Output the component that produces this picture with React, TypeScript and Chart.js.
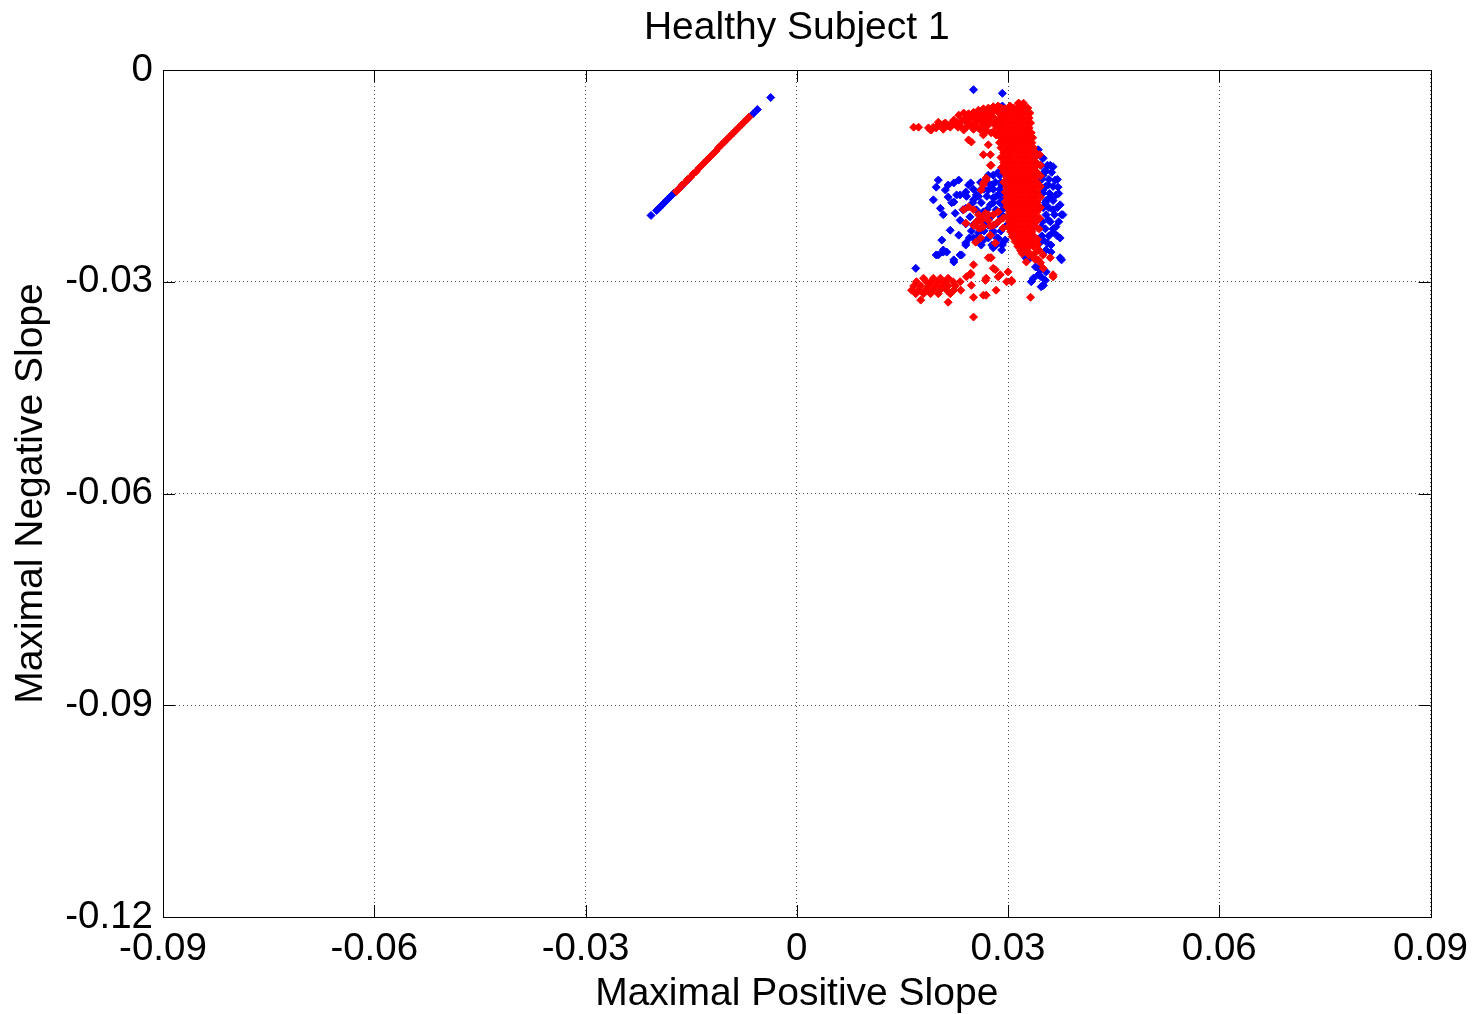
import React, { useEffect, useRef } from 'react';
import { Chart, registerables } from 'chart.js';

Chart.register(...registerables);

const chartTitle = 'Healthy Subject 1';
const xAxisTitle = 'Maximal Positive Slope';
const yAxisTitle = 'Maximal Negative Slope';

const xTickValues = [-0.09, -0.06, -0.03, 0, 0.03, 0.06, 0.09];
const xTickLabels = ['-0.09', '-0.06', '-0.03', '0', '0.03', '0.06', '0.09'];
const yTickValues = [-0.12, -0.09, -0.06, -0.03, 0];
const yTickLabels = ['-0.12', '-0.09', '-0.06', '-0.03', '0'];

type P = [number, number];

// Blue group
const blueLine: P[] = [
  [-0.0207, -0.0206], [-0.0199, -0.0199], [-0.0196, -0.0196], [-0.0193, -0.0193], [-0.0190, -0.0190],
  [-0.0187, -0.0187], [-0.0184, -0.0184], [-0.0181, -0.0181], [-0.0178, -0.0178], [-0.0175, -0.0175],
  [-0.0164, -0.0165], [-0.0155, -0.0156], [-0.0062, -0.0062], [-0.0056, -0.0056], [-0.0037, -0.0039],
];

const blueCloudLeft: P[] = [
  [0.0251, -0.0028], [0.0292, -0.0033], [0.0292, -0.0051],
  [0.0201, -0.0156], [0.0198, -0.0166], [0.0223, -0.0160], [0.0230, -0.0156], [0.0247, -0.0160],
  [0.0240, -0.0173], [0.0215, -0.0180], [0.0223, -0.0187], [0.0204, -0.0196], [0.0225, -0.0203],
  [0.0240, -0.0196], [0.0251, -0.0184], [0.0261, -0.0170], [0.0272, -0.0170], [0.0265, -0.0201],
  [0.0258, -0.0213], [0.0262, -0.0227], [0.0240, -0.0248], [0.0208, -0.0255], [0.0220, -0.0188],
  [0.0240, -0.0245], [0.0213, -0.0258], [0.0201, -0.0262], [0.0223, -0.0272], [0.0234, -0.0262],
  [0.0169, -0.0281], [0.0258, -0.0231], [0.0286, -0.0238], [0.0296, -0.0241], [0.0269, -0.0159],
  [0.0272, -0.0149], [0.0276, -0.0163], [0.0279, -0.0181], [0.0275, -0.0191], [0.0272, -0.0220],
  [0.0279, -0.0230], [0.0283, -0.0248], [0.0291, -0.0255], [0.0265, -0.0241], [0.0255, -0.0177],
  [0.0244, -0.0163], [0.0232, -0.0177], [0.0211, -0.0170],
  [0.0286, -0.0145], [0.0291, -0.0163], [0.0286, -0.0177], [0.0293, -0.0191], [0.0291, -0.0205],
  [0.0298, -0.0220],
  [0.0279, -0.0149], [0.0288, -0.0149],
  [0.0261, -0.0159], [0.0282, -0.0159], [0.0290, -0.0159],
  [0.0251, -0.0169], [0.0266, -0.0169], [0.0279, -0.0169], [0.0288, -0.0169],
  [0.0241, -0.0179], [0.0258, -0.0179], [0.0270, -0.0179], [0.0283, -0.0179], [0.0291, -0.0179],
  [0.0250, -0.0188], [0.0262, -0.0188], [0.0279, -0.0188], [0.0288, -0.0188],
  [0.0236, -0.0198], [0.0255, -0.0198], [0.0270, -0.0198], [0.0283, -0.0198], [0.0292, -0.0198],
  [0.0246, -0.0208], [0.0261, -0.0208], [0.0276, -0.0208], [0.0290, -0.0208],
  [0.0240, -0.0218], [0.0252, -0.0218], [0.0268, -0.0218], [0.0283, -0.0218],
  [0.0248, -0.0228], [0.0266, -0.0228], [0.0279, -0.0228], [0.0290, -0.0228],
  [0.0245, -0.0238], [0.0256, -0.0238], [0.0272, -0.0238], [0.0284, -0.0238],
  [0.0262, -0.0248], [0.0277, -0.0248], [0.0292, -0.0248],
  [0.0194, -0.0184], [0.0208, -0.0205], [0.0215, -0.0163], [0.0227, -0.0177], [0.0232, -0.0213],
  [0.0218, -0.0227], [0.0206, -0.0241], [0.0230, -0.0234], [0.0198, -0.0262], [0.0208, -0.0258],
  [0.0223, -0.0269], [0.0232, -0.0262], [0.0251, -0.0238], [0.0261, -0.0244], [0.0279, -0.0252],
  [0.0293, -0.0244],
];

const blueCloudRight: P[] = [
  [0.0347, -0.0123], [0.0353, -0.0142], [0.0364, -0.0137], [0.0367, -0.0156], [0.0371, -0.0166],
  [0.0360, -0.0180], [0.0376, -0.0205], [0.0368, -0.0222], [0.0347, -0.0222], [0.0343, -0.0194],
  [0.0353, -0.0188], [0.0360, -0.0135], [0.0347, -0.0279], [0.0353, -0.0298], [0.0350, -0.0305],
  [0.0333, -0.0300], [0.0376, -0.0269], [0.0361, -0.0248], [0.0374, -0.0238], [0.0325, -0.0266],
  [0.0346, -0.0283], [0.0339, -0.0279], [0.0343, -0.0290], [0.0347, -0.0307], [0.0350, -0.0149],
  [0.0357, -0.0163], [0.0350, -0.0170], [0.0364, -0.0198], [0.0357, -0.0212], [0.0350, -0.0241],
  [0.0364, -0.0230], [0.0354, -0.0255], [0.0343, -0.0113], [0.0368, -0.0177], [0.0374, -0.0191],
  [0.0350, -0.0125],
  [0.0347, -0.0135], [0.0356, -0.0135],
  [0.0352, -0.0145], [0.0362, -0.0145],
  [0.0348, -0.0155], [0.0358, -0.0155], [0.0370, -0.0155],
  [0.0353, -0.0165], [0.0364, -0.0165],
  [0.0349, -0.0175], [0.0359, -0.0175], [0.0372, -0.0175],
  [0.0354, -0.0185], [0.0364, -0.0185],
  [0.0350, -0.0195], [0.0358, -0.0195], [0.0370, -0.0195],
  [0.0354, -0.0205], [0.0366, -0.0205], [0.0378, -0.0205],
  [0.0349, -0.0215], [0.0360, -0.0215], [0.0372, -0.0215],
  [0.0353, -0.0225], [0.0364, -0.0225],
  [0.0348, -0.0235], [0.0358, -0.0235], [0.0370, -0.0235],
  [0.0345, -0.0245], [0.0356, -0.0245],
  [0.0361, -0.0258], [0.0374, -0.0266],
  [0.0332, -0.0266], [0.0343, -0.0281], [0.0347, -0.0293], [0.0350, -0.0305], [0.0336, -0.0295],
  [0.0354, -0.0286],
];

// Red group
const redLine: P[] = [
  [-0.0171, -0.0172], [-0.0167, -0.0168], [-0.0163, -0.0163], [-0.0159, -0.0160], [-0.0155, -0.0155],
  [-0.0151, -0.0152], [-0.0147, -0.0147], [-0.0143, -0.0144], [-0.0139, -0.0139], [-0.0135, -0.0135],
  [-0.0131, -0.0131], [-0.0127, -0.0127], [-0.0123, -0.0123], [-0.0119, -0.0119], [-0.0115, -0.0115],
  [-0.0111, -0.0110], [-0.0107, -0.0106], [-0.0103, -0.0102], [-0.0099, -0.0098], [-0.0095, -0.0094],
  [-0.0091, -0.0090], [-0.0087, -0.0086], [-0.0083, -0.0082], [-0.0079, -0.0078], [-0.0075, -0.0074],
  [-0.0071, -0.0070], [-0.0068, -0.0067],
];

const redStreak: P[] = [
  [0.0166, -0.0081], [0.0173, -0.0081], [0.0187, -0.0082], [0.0194, -0.0081], [0.0191, -0.0085],
  [0.0201, -0.0074], [0.0201, -0.0079], [0.0208, -0.0077], [0.0211, -0.0075], [0.0215, -0.0079],
  [0.0220, -0.0075], [0.0223, -0.0071], [0.0227, -0.0074], [0.0230, -0.0078], [0.0234, -0.0072],
  [0.0237, -0.0085], [0.0240, -0.0068], [0.0241, -0.0074], [0.0244, -0.0071], [0.0247, -0.0077],
  [0.0248, -0.0102], [0.0251, -0.0068], [0.0254, -0.0067], [0.0255, -0.0074], [0.0258, -0.0065],
  [0.0261, -0.0071], [0.0262, -0.0064], [0.0265, -0.0068], [0.0265, -0.0077], [0.0265, -0.0092],
  [0.0268, -0.0061], [0.0269, -0.0071], [0.0272, -0.0060], [0.0272, -0.0068], [0.0272, -0.0078],
  [0.0275, -0.0064], [0.0276, -0.0071], [0.0279, -0.0058], [0.0279, -0.0067], [0.0282, -0.0077],
  [0.0283, -0.0057], [0.0286, -0.0060], [0.0291, -0.0054], [0.0293, -0.0064], [0.0296, -0.0055],
  [0.0300, -0.0057], [0.0303, -0.0051], [0.0308, -0.0054], [0.0315, -0.0047], [0.0317, -0.0050],
  [0.0322, -0.0052], [0.0325, -0.0057], [0.0272, -0.0106], [0.0275, -0.0120], [0.0276, -0.0135],
  [0.0269, -0.0156], [0.0262, -0.0170], [0.0244, -0.0099], [0.0229, -0.0081], [0.0251, -0.0079],
  [0.0258, -0.0082], [0.0286, -0.0071], [0.0290, -0.0080], [0.0248, -0.0064], [0.0268, -0.0085],
  [0.0279, -0.0088], [0.0283, -0.0080],
  [0.0190, -0.0085], [0.0198, -0.0082], [0.0208, -0.0084], [0.0218, -0.0081], [0.0227, -0.0079],
  [0.0230, -0.0064], [0.0237, -0.0061], [0.0244, -0.0062], [0.0251, -0.0060], [0.0258, -0.0057],
  [0.0265, -0.0055], [0.0272, -0.0054], [0.0279, -0.0052], [0.0286, -0.0051], [0.0232, -0.0079],
  [0.0241, -0.0081], [0.0251, -0.0084], [0.0261, -0.0085], [0.0269, -0.0086], [0.0276, -0.0089],
  [0.0283, -0.0092], [0.0286, -0.0078], [0.0281, -0.0071],
];

const redColumn: P[] = [
  [0.0315, -0.0047], [0.0322, -0.0047],
  [0.0306, -0.0054], [0.0314, -0.0054], [0.0322, -0.0054], [0.0328, -0.0054],
  [0.0294, -0.0061], [0.0302, -0.0061], [0.0310, -0.0061], [0.0318, -0.0061], [0.0326, -0.0061], [0.0331, -0.0061],
  [0.0290, -0.0068], [0.0298, -0.0068], [0.0306, -0.0068], [0.0314, -0.0068], [0.0322, -0.0068], [0.0330, -0.0068],
  [0.0286, -0.0075], [0.0294, -0.0075], [0.0302, -0.0075], [0.0310, -0.0075], [0.0318, -0.0075], [0.0326, -0.0075], [0.0332, -0.0075],
  [0.0290, -0.0082], [0.0298, -0.0082], [0.0306, -0.0082], [0.0314, -0.0082], [0.0322, -0.0082], [0.0330, -0.0082],
  [0.0286, -0.0089], [0.0294, -0.0089], [0.0302, -0.0089], [0.0310, -0.0089], [0.0318, -0.0089], [0.0326, -0.0089], [0.0333, -0.0089],
  [0.0290, -0.0096], [0.0298, -0.0096], [0.0306, -0.0096], [0.0314, -0.0096], [0.0322, -0.0096], [0.0330, -0.0096], [0.0335, -0.0096],
  [0.0288, -0.0103], [0.0294, -0.0103], [0.0302, -0.0103], [0.0310, -0.0103], [0.0318, -0.0103], [0.0326, -0.0103], [0.0334, -0.0103],
  [0.0290, -0.0110], [0.0298, -0.0110], [0.0306, -0.0110], [0.0314, -0.0110], [0.0322, -0.0110], [0.0330, -0.0110], [0.0336, -0.0110],
  [0.0294, -0.0117], [0.0302, -0.0117], [0.0310, -0.0117], [0.0318, -0.0117], [0.0326, -0.0117], [0.0334, -0.0117], [0.0339, -0.0117],
  [0.0290, -0.0124], [0.0298, -0.0124], [0.0306, -0.0124], [0.0314, -0.0124], [0.0322, -0.0124], [0.0330, -0.0124], [0.0338, -0.0124],
  [0.0294, -0.0131], [0.0302, -0.0131], [0.0310, -0.0131], [0.0318, -0.0131], [0.0326, -0.0131], [0.0334, -0.0131], [0.0340, -0.0131],
  [0.0291, -0.0138], [0.0298, -0.0138], [0.0306, -0.0138], [0.0314, -0.0138], [0.0322, -0.0138], [0.0330, -0.0138], [0.0338, -0.0138],
  [0.0294, -0.0145], [0.0302, -0.0145], [0.0310, -0.0145], [0.0318, -0.0145], [0.0326, -0.0145], [0.0334, -0.0145], [0.0341, -0.0145],
  [0.0298, -0.0152], [0.0306, -0.0152], [0.0314, -0.0152], [0.0322, -0.0152], [0.0330, -0.0152], [0.0338, -0.0152],
  [0.0294, -0.0159], [0.0302, -0.0159], [0.0310, -0.0159], [0.0318, -0.0159], [0.0326, -0.0159], [0.0334, -0.0159], [0.0341, -0.0159],
  [0.0298, -0.0166], [0.0306, -0.0166], [0.0314, -0.0166], [0.0322, -0.0166], [0.0330, -0.0166], [0.0338, -0.0166],
  [0.0296, -0.0173], [0.0302, -0.0173], [0.0310, -0.0173], [0.0318, -0.0173], [0.0326, -0.0173], [0.0334, -0.0173], [0.0341, -0.0173],
  [0.0298, -0.0180], [0.0306, -0.0180], [0.0314, -0.0180], [0.0322, -0.0180], [0.0330, -0.0180], [0.0338, -0.0180],
  [0.0296, -0.0187], [0.0302, -0.0187], [0.0310, -0.0187], [0.0318, -0.0187], [0.0326, -0.0187], [0.0334, -0.0187], [0.0341, -0.0187],
  [0.0298, -0.0194], [0.0306, -0.0194], [0.0314, -0.0194], [0.0322, -0.0194], [0.0330, -0.0194], [0.0338, -0.0194],
  [0.0302, -0.0201], [0.0310, -0.0201], [0.0318, -0.0201], [0.0326, -0.0201], [0.0334, -0.0201], [0.0341, -0.0201],
  [0.0298, -0.0208], [0.0306, -0.0208], [0.0314, -0.0208], [0.0322, -0.0208], [0.0330, -0.0208], [0.0338, -0.0208],
  [0.0302, -0.0215], [0.0310, -0.0215], [0.0318, -0.0215], [0.0326, -0.0215], [0.0334, -0.0215], [0.0340, -0.0215],
  [0.0300, -0.0222], [0.0306, -0.0222], [0.0314, -0.0222], [0.0322, -0.0222], [0.0330, -0.0222], [0.0338, -0.0222],
  [0.0304, -0.0229], [0.0310, -0.0229], [0.0318, -0.0229], [0.0326, -0.0229], [0.0334, -0.0229],
  [0.0306, -0.0236], [0.0314, -0.0236], [0.0322, -0.0236], [0.0330, -0.0236], [0.0337, -0.0236],
  [0.0310, -0.0243], [0.0318, -0.0243], [0.0326, -0.0243], [0.0334, -0.0243],
  [0.0314, -0.0250], [0.0322, -0.0250], [0.0330, -0.0250],
  [0.0318, -0.0256], [0.0326, -0.0256],
  [0.0345, -0.0120], [0.0346, -0.0135], [0.0346, -0.0150], [0.0346, -0.0165], [0.0346, -0.0180],
  [0.0346, -0.0195], [0.0345, -0.0210], [0.0344, -0.0225], [0.0342, -0.0240],
  [0.0320, -0.0260], [0.0330, -0.0262], [0.0338, -0.0268], [0.0344, -0.0255], [0.0336, -0.0250],
  [0.0342, -0.0247],
];

const redScatter: P[] = [
  [0.0240, -0.0217], [0.0251, -0.0220], [0.0258, -0.0224], [0.0261, -0.0213], [0.0268, -0.0203],
  [0.0265, -0.0160], [0.0261, -0.0238], [0.0272, -0.0205], [0.0279, -0.0220], [0.0275, -0.0234],
  [0.0282, -0.0245], [0.0254, -0.0244], [0.0272, -0.0266], [0.0282, -0.0283], [0.0286, -0.0293],
  [0.0247, -0.0288], [0.0251, -0.0322], [0.0269, -0.0319], [0.0268, -0.0298], [0.0283, -0.0312],
  [0.0305, -0.0298], [0.0300, -0.0286], [0.0332, -0.0322], [0.0326, -0.0272], [0.0339, -0.0259],
  [0.0343, -0.0269], [0.0364, -0.0293], [0.0251, -0.0350], [0.0241, -0.0293], [0.0215, -0.0329],
  [0.0329, -0.0258], [0.0336, -0.0265], [0.0350, -0.0262], [0.0346, -0.0273], [0.0325, -0.0252],
  [0.0276, -0.0266], [0.0305, -0.0300], [0.0237, -0.0198], [0.0244, -0.0194],
  [0.0251, -0.0198], [0.0258, -0.0205], [0.0265, -0.0210], [0.0272, -0.0213], [0.0279, -0.0205],
  [0.0286, -0.0201], [0.0286, -0.0215], [0.0275, -0.0221], [0.0265, -0.0222], [0.0255, -0.0215],
  [0.0293, -0.0210], [0.0293, -0.0224],
  [0.0265, -0.0120], [0.0275, -0.0135], [0.0269, -0.0153], [0.0265, -0.0163],
  [0.0251, -0.0276], [0.0247, -0.0290], [0.0275, -0.0266], [0.0279, -0.0281], [0.0289, -0.0290],
  [0.0298, -0.0300], [0.0269, -0.0295], [0.0265, -0.0319], [0.0248, -0.0305], [0.0350, -0.0281],
  [0.0364, -0.0290], [0.0360, -0.0266], [0.0261, -0.0224],
];

const redLowCluster: P[] = [
  [0.0180, -0.0295], [0.0194, -0.0295], [0.0204, -0.0295], [0.0215, -0.0295],
  [0.0170, -0.0300], [0.0184, -0.0300], [0.0191, -0.0300], [0.0201, -0.0300], [0.0211, -0.0300], [0.0222, -0.0300], [0.0232, -0.0300],
  [0.0166, -0.0306], [0.0176, -0.0306], [0.0187, -0.0306], [0.0197, -0.0306], [0.0207, -0.0306], [0.0215, -0.0306], [0.0225, -0.0306],
  [0.0163, -0.0312], [0.0173, -0.0312], [0.0183, -0.0312], [0.0193, -0.0312], [0.0203, -0.0312], [0.0213, -0.0312], [0.0223, -0.0312], [0.0233, -0.0312],
  [0.0169, -0.0317], [0.0180, -0.0317], [0.0190, -0.0317], [0.0201, -0.0317], [0.0218, -0.0317],
  [0.0176, -0.0326],
];

const bluePoints = [...blueLine, ...blueCloudLeft, ...blueCloudRight];
const redPoints = [...redLine, ...redStreak, ...redColumn, ...redScatter, ...redLowCluster];

const FONT = 'Liberation Sans, Arial, Helvetica, sans-serif';

const framePlugin = {
  id: 'matlabFrame',
  afterDatasetsDraw(chart: any) {
    const { ctx, chartArea } = chart;
    const { left, top, right, bottom } = chartArea;
    const xs = chart.scales.x;
    const ys = chart.scales.y;
    const tl = 12;
    ctx.save();
    ctx.strokeStyle = '#000';
    ctx.lineWidth = 1;
    ctx.setLineDash([]);
    ctx.beginPath();
    xTickValues.forEach((v) => {
      const px = Math.round(xs.getPixelForValue(v)) + 0.5;
      ctx.moveTo(px, bottom);
      ctx.lineTo(px, bottom - tl);
      ctx.moveTo(px, top);
      ctx.lineTo(px, top + tl);
    });
    yTickValues.forEach((v) => {
      const py = Math.round(ys.getPixelForValue(v)) + 0.5;
      ctx.moveTo(left, py);
      ctx.lineTo(left + tl, py);
      ctx.moveTo(right, py);
      ctx.lineTo(right - tl, py);
    });
    ctx.stroke();
    ctx.strokeRect(Math.round(left) + 0.5, Math.round(top) + 0.5, Math.round(right - left), Math.round(bottom - top));
    ctx.restore();
  },
};

export default function App() {
  const canvasRef = useRef<HTMLCanvasElement | null>(null);

  useEffect(() => {
    const canvas = canvasRef.current;
    if (!canvas) return;
    const chart = new Chart(canvas, {
      type: 'scatter',
      data: {
        datasets: [
          {
            label: 'red',
            data: redPoints.map(([x, y]) => ({ x, y })),
            backgroundColor: '#ff0000',
            borderColor: '#ff0000',
            borderWidth: 1,
            pointStyle: 'rectRot',
            pointRadius: 4,
          },
          {
            label: 'blue',
            data: bluePoints.map(([x, y]) => ({ x, y })),
            backgroundColor: '#0000ff',
            borderColor: '#0000ff',
            borderWidth: 1,
            pointStyle: 'rectRot',
            pointRadius: 4,
          },
        ],
      },
      options: {
        animation: false,
        responsive: false,
        devicePixelRatio: 1,
        layout: { padding: { left: 0, top: 0, right: 44, bottom: 0 } },
        plugins: {
          legend: { display: false },
          tooltip: { enabled: false },
          title: {
            display: true,
            fullSize: false,
            text: chartTitle,
            color: '#000',
            font: { family: FONT, size: 39, weight: 'normal', lineHeight: 1 },
            padding: { top: 8.5, bottom: 22.5 },
          },
        },
        scales: {
          x: {
            type: 'linear',
            min: -0.09,
            max: 0.09,
            afterBuildTicks: (scale: any) => {
              scale.ticks = xTickValues.map((v) => ({ value: v }));
            },
            afterFit: (scale: any) => {
              scale.height = 97;
            },
            ticks: {
              autoSkip: false,
              maxRotation: 0,
              minRotation: 0,
              padding: 9,
              color: '#000',
              font: { family: FONT, size: 38.5 },
              callback: (_v: any, i: number) => xTickLabels[i],
            },
            grid: { color: 'rgba(0,0,0,0.7)', lineWidth: 1, drawTicks: false },
            border: { display: false, dash: [1, 3] },
            title: {
              display: true,
              text: xAxisTitle,
              color: '#000',
              font: { family: FONT, size: 39, lineHeight: 1 },
              padding: { top: 0, bottom: 0 },
            },
          },
          y: {
            type: 'linear',
            min: -0.12,
            max: 0,
            afterBuildTicks: (scale: any) => {
              scale.ticks = yTickValues.map((v) => ({ value: v }));
            },
            afterFit: (scale: any) => {
              scale.width = 163;
            },
            ticks: {
              autoSkip: false,
              padding: 10,
              color: '#000',
              font: { family: FONT, size: 38.5 },
              callback: (_v: any, i: number) => yTickLabels[i],
            },
            grid: { color: 'rgba(0,0,0,0.7)', lineWidth: 1, drawTicks: false },
            border: { display: false, dash: [1, 3] },
            title: {
              display: true,
              text: yAxisTitle,
              color: '#000',
              font: { family: FONT, size: 39, lineHeight: 1 },
              padding: { top: 12, bottom: 0 },
            },
          },
        },
      },
      plugins: [framePlugin],
    } as any);
    return () => chart.destroy();
  }, []);

  return (
    <div style={{ position: 'fixed', left: 0, top: 0, width: 1477, height: 1014, background: '#fff' }}>
      <canvas ref={canvasRef} width={1477} height={1014} style={{ display: 'block', width: 1477, height: 1014 }} />
    </div>
  );
}
